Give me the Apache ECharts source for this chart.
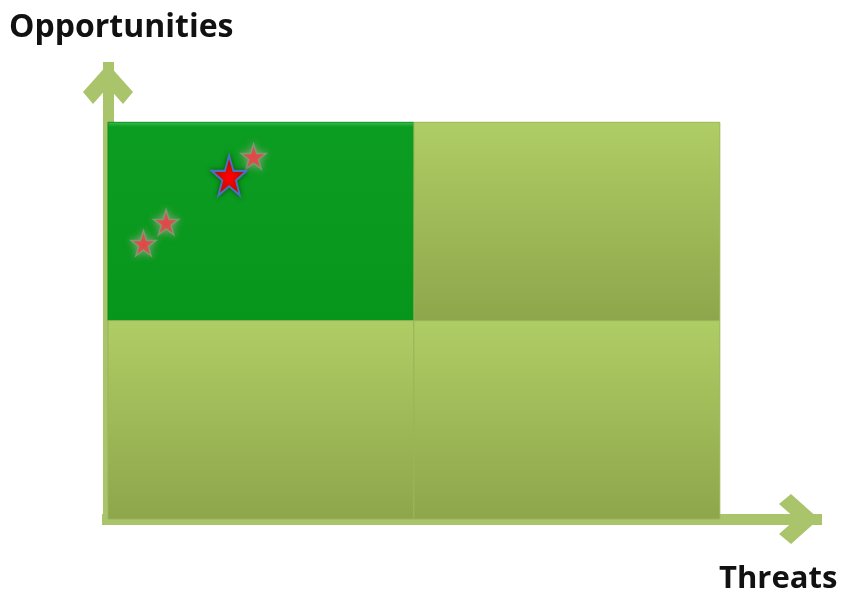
<!DOCTYPE html>
<html>
<head>
<meta charset="utf-8">
<script src="https://cdn.jsdelivr.net/npm/echarts@6/dist/echarts.min.js"></script>
<style>html,body{margin:0;padding:0;background:#fff;}#c{width:843px;height:596px;}</style>
</head>
<body>
<div id="c"></div>
<script>
// Quadrants: [x0, x1, y0, y1, kind]
var quadX0 = [0, 5, 0, 5];
var quadX1 = [5, 10, 5, 10];
var quadY0 = [5, 5, 0, 0];
var quadY1 = [10, 10, 5, 5];
var quadKind = ['dark', 'light', 'light', 'light'];

// Stars (threats, opportunities)
var smallStarX = [0.58, 0.95, 2.38];
var smallStarY = [6.95, 7.48, 9.14];
var bigStarX = [1.98];
var bigStarY = [8.66];

var xAxisName = 'Threats';
var yAxisName = 'Opportunities';

var starPath = 'path://M50,0 L61.8,35.1 L98.1,35.1 L68.8,56.7 L79.4,91 L50,70 L20.6,91 L31.2,56.7 L1.9,35.1 L38.2,35.1 Z';
// upward-pointing thick chevron (ECharts rotates it along the axis)
var chevron = 'path://M25,0 L50,28 L40,40 L25,23 L10,40 L0,28 Z';

var quadData = quadX0.map(function (v, i) { return [v, quadX1[i], quadY0[i], quadY1[i], i]; });

var chart = echarts.init(document.getElementById('c'));
chart.setOption({
  animation: false,
  grid: { left: 102, right: 21, top: 62, bottom: 75 },
  xAxis: {
    type: 'value', min: -0.098, max: 11.67,
    axisLine: { show: true, lineStyle: { color: '#a9c46b', width: 11, cap: 'butt' }, symbol: ['none', chevron], symbolSize: [50, 46], symbolOffset: [0, -23] },
    axisTick: { show: false }, axisLabel: { show: false }, splitLine: { show: false }
  },
  yAxis: {
    type: 'value', min: -0.05, max: 11.52,
    axisLine: { show: true, lineStyle: { color: '#a9c46b', width: 11, cap: 'butt' }, symbol: ['none', chevron], symbolSize: [50, 44], symbolOffset: [0, -22] },
    axisTick: { show: false }, axisLabel: { show: false }, splitLine: { show: false }
  },
  graphic: [
    { type: 'text', left: 9, top: 12, style: { text: yAxisName, font: 'bold 32px "Open Sans", sans-serif', fill: '#111' } },
    { type: 'text', left: 719, top: 564, style: { text: xAxisName, font: 'bold 31px "Open Sans", sans-serif', fill: '#111' } }
  ],
  series: [
    {
      type: 'custom',
      data: quadData,
      renderItem: function (params, api) {
        var p0 = api.coord([api.value(0), api.value(3)]);
        var p1 = api.coord([api.value(1), api.value(2)]);
        var idx = api.value(4);
        var dark = quadKind[idx] === 'dark';
        var fill = dark ? new echarts.graphic.LinearGradient(0, 0, 0, 1, [
          { offset: 0, color: '#3fbf50' }, { offset: 0.025, color: '#0b9d21' }, { offset: 1, color: '#07961c' }
        ]) : new echarts.graphic.LinearGradient(0, 0, 0, 1, [
          { offset: 0, color: '#afcd65' }, { offset: 1, color: '#8ea64b' }
        ]);
        return {
          type: 'rect',
          shape: { x: p0[0], y: p0[1], width: p1[0] - p0[0], height: p1[1] - p0[1] },
          style: { fill: fill, stroke: dark ? '#0b8f1e' : '#9ab556', lineWidth: 1 }
        };
      },
      silent: true, z: 1
    },
    {
      type: 'scatter',
      data: smallStarX.map(function (v, i) { return [v, smallStarY[i]]; }),
      symbol: starPath, symbolSize: [25, 25],
      itemStyle: { color: '#f2373d', opacity: 1, borderColor: '#7d9a72', borderWidth: 1.5, shadowColor: 'rgba(140,160,120,0.95)', shadowBlur: 7 },
      z: 3
    },
    {
      type: 'scatter',
      data: bigStarX.map(function (v, i) { return [v, bigStarY[i]]; }),
      symbol: starPath, symbolSize: [35, 40],
      itemStyle: { color: '#ff0000', opacity: 1, borderColor: '#4f6fc4', borderWidth: 2, shadowColor: 'rgba(0,60,0,0.6)', shadowBlur: 5 },
      z: 4
    }
  ]
});
</script>
</body>
</html>
